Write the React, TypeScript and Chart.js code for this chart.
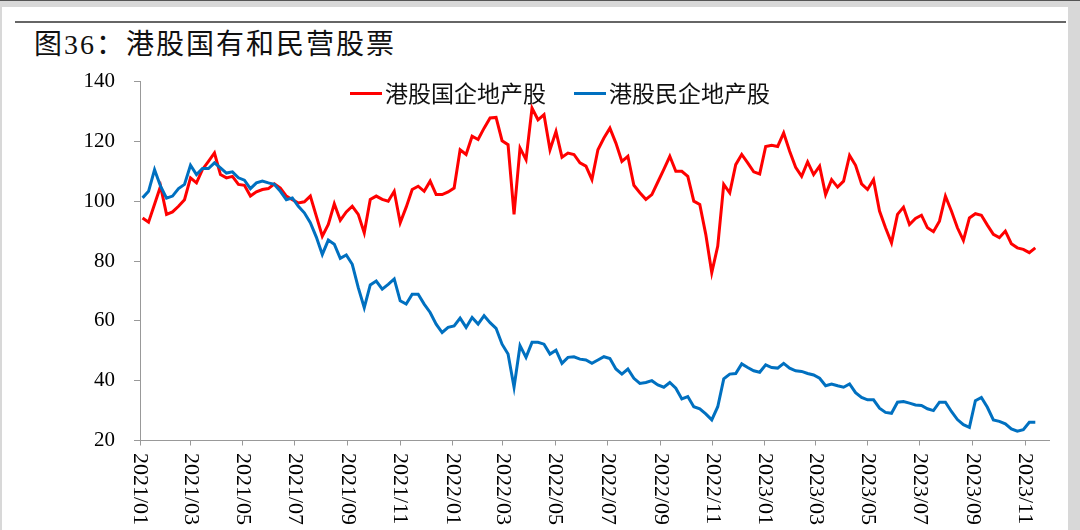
import { useEffect, useRef } from "react"
import { Chart, registerables } from "chart.js"

Chart.register(...registerables)

// weekly closes from 2021-01-04, one value per week
const stateOwned = [
  94.4, 93, 99, 105, 95.6, 96.4, 98.3, 100.5, 107.8, 106.1,
  110.6, 113.3, 116.1, 108.9, 107.8, 108.3, 105.6, 105.3, 101.7, 103.1,
  103.9, 104.2, 105.8, 104.4, 101.7, 100.5, 99.4, 99.8, 101.7, 95,
  88.3, 92.2, 99.1, 93.6, 96.4, 98.3, 95.6, 89.4, 100.6, 101.7,
  100.6, 100, 103.3, 92.8, 98, 103.9, 105, 103.3, 106.7, 102.2,
  102.2, 103.1, 104.4, 117.2, 115.6, 121.7, 120.6, 124.4, 127.8, 128,
  120.2, 118.9, 95.6, 117.8, 113.9, 131.1, 127.2, 128.9, 117.2, 123.3,
  114.7, 116.1, 115.6, 112.8, 111.7, 107.2, 117.2, 121.1, 124.4, 119.4,
  113.3, 115, 105.3, 102.8, 100.6, 102.2, 106.4, 110.6, 115, 110,
  110, 108.3, 100, 98.9, 88.9, 76.1, 85, 105.6, 102.8, 112.2,
  115.6, 112.8, 109.8, 109.1, 118.3, 118.7, 118.3, 122.8, 116.7, 111.3,
  108.3, 113.1, 108.9, 111.7, 102.2, 107.2, 104.7, 106.7, 115.3, 112,
  105.8, 103.9, 107.2, 96.7, 91.1, 86.1, 95.6, 98, 92.2, 94.2,
  95.3, 91.1, 89.8, 93.3, 101.7, 96.7, 91.1, 86.9, 94.4, 95.8,
  95.3, 92, 88.9, 87.8, 90, 85.8, 84.4, 83.9, 82.8, 84.4,
]

const privateOwned = [
  101.1, 103.3, 110.5, 105, 101, 101.7, 104.2, 105.6, 112, 108.9,
  110.9, 110.9, 112.8, 111.1, 109.4, 109.8, 107.8, 107, 104.2, 106.1,
  106.7, 106.1, 105.6, 103.3, 100.5, 101.1, 98.3, 96.1, 92.8, 88,
  82.2, 87, 85.6, 80.9, 82, 78.9, 71.1, 64.4, 72, 73.3,
  70.6, 72.2, 74, 66.7, 65.6, 68.9, 68.9, 65.6, 62.8, 58.9,
  56.1, 57.8, 58.3, 60.9, 57.8, 61.1, 58.9, 61.7, 59.4, 57.5,
  52.2, 48.9, 37.8, 51.7, 47.8, 52.8, 52.8, 52.2, 48.9, 50.2,
  45.8, 47.8, 48, 47.2, 46.9, 45.8, 46.9, 48, 47.4, 43.9,
  42.2, 43.9, 40.8, 39.1, 39.4, 40, 38.6, 37.8, 39.4, 37.5,
  33.9, 34.7, 31.3, 30.6, 28.9, 26.9, 31.3, 40.6, 42.2, 42.4,
  45.6, 44.4, 43.3, 42.8, 45.3, 44.4, 44.2, 45.8, 44.2, 43.3,
  43.1, 42.4, 41.9, 40.8, 38.3, 38.9, 38.3, 37.8, 38.9, 36,
  34.4, 33.6, 33.6, 30.8, 29.4, 29.1, 32.8, 33, 32.5, 31.9,
  31.7, 30.6, 30, 32.8, 32.8, 29.7, 27, 25.3, 24.4, 33.3,
  34.4, 31.1, 26.9, 26.4, 25.6, 23.9, 23.1, 23.6, 26.1, 26.1,
]

const tickLabels = [
  "2021/01", "2021/03", "2021/05", "2021/07", "2021/09", "2021/11",
  "2022/01", "2022/03", "2022/05", "2022/07", "2022/09", "2022/11",
  "2023/01", "2023/03", "2023/05", "2023/07", "2023/09", "2023/11",
]

const origin = Date.UTC(2021, 0, 1)
const DAY = 86400000

// week dates (Mondays) as day offsets from 2021-01-01
const weekDays = stateOwned.map((_, i) => (Date.UTC(2021, 0, 4 + 7 * i) - origin) / DAY)

function monthDay(label) {
  const [y, m] = label.split("/").map(Number)
  return (Date.UTC(y, m - 1, 1) - origin) / DAY
}

const xLabelPlugin = {
  id: "xLabels",
  afterDraw(chart) {
    const s = chart.scales.x
    const ctx = chart.ctx
    ctx.save()
    ctx.font = '22px "Liberation Serif"'
    ctx.fillStyle = "#000"
    ctx.textAlign = "left"
    ctx.textBaseline = "middle"
    s.ticks.forEach((t, i) => {
      const x = s.getPixelForValue(t.value)
      ctx.save()
      ctx.translate(x, s.top + 12.5)
      ctx.rotate(Math.PI / 2)
      ctx.fillText(tickLabels[i], 0, 0)
      ctx.restore()
    })
    ctx.restore()
  },
}

const legendPlugin = {
  id: "topLegend",
  afterDraw(chart) {
    const ctx = chart.ctx
    const y = 93.5
    let x = 350
    ctx.save()
    ctx.font = '23px "Noto Sans CJK SC"'
    ctx.textBaseline = "middle"
    ctx.textAlign = "left"
    chart.data.datasets.forEach((ds) => {
      ctx.strokeStyle = ds.borderColor
      ctx.lineWidth = 3
      ctx.beginPath()
      ctx.moveTo(x, y)
      ctx.lineTo(x + 32, y)
      ctx.stroke()
      x += 35
      ctx.fillStyle = "#111"
      ctx.fillText(ds.label, x, y)
      x += ctx.measureText(ds.label).width + 28
    })
    ctx.restore()
  },
}

function LineChart() {
  const chartRef = useRef(null)
  const chartInstance = useRef(null)

  useEffect(() => {
    if (chartInstance.current) {
      chartInstance.current.destroy()
    }
    const ctx = chartRef.current.getContext("2d")
    chartInstance.current = new Chart(ctx, {
      type: "line",
      data: {
        datasets: [
          {
            label: "港股国企地产股",
            data: stateOwned.map((v, i) => ({ x: weekDays[i], y: v })),
            borderColor: "#FF0000",
            borderWidth: 3,
            pointRadius: 0,
            tension: 0,
            order: 1,
          },
          {
            label: "港股民企地产股",
            data: privateOwned.map((v, i) => ({ x: weekDays[i], y: v })),
            borderColor: "#0070C0",
            borderWidth: 3,
            pointRadius: 0,
            tension: 0,
            order: 0,
          },
        ],
      },
      options: {
        responsive: false,
        animation: false,
        layout: { padding: { top: 81.5, right: 31, left: 0, bottom: 0 } },
        plugins: {
          legend: { display: false },
          tooltip: { enabled: false },
        },
        scales: {
          x: {
            type: "linear",
            min: 0,
            max: 1062,
            afterBuildTicks: (s) => {
              s.ticks = tickLabels.map((l) => ({ value: monthDay(l) }))
            },
            afterFit: (s) => {
              s.height = 89.5
            },
            ticks: { display: false },
            grid: { drawOnChartArea: false, drawTicks: true, tickLength: 5, color: "#999" },
            border: { color: "#999", width: 1 },
          },
          y: {
            min: 20,
            max: 140,
            afterFit: (s) => {
              s.width = 140
            },
            ticks: {
              stepSize: 20,
              padding: 19,
              color: "#000",
              font: { family: '"Liberation Serif"', size: 21 },
            },
            grid: { drawOnChartArea: false, drawTicks: true, tickLength: 6, color: "#999" },
            border: { color: "#999", width: 1 },
          },
        },
      },
      plugins: [xLabelPlugin, legendPlugin],
    })

    return () => {
      if (chartInstance.current) {
        chartInstance.current.destroy()
        chartInstance.current = null
      }
    }
  }, [])

  return (
    <canvas
      ref={chartRef}
      width={1080}
      height={530}
      style={{ position: "absolute", left: 0, top: 0, width: 1080, height: 530 }}
    />
  )
}

export default function App() {
  return (
    <div
      style={{
        position: "fixed",
        left: 0,
        top: 0,
        width: 1080,
        height: 530,
        background: "#d8d8d8",
        overflow: "hidden",
      }}
    >
      <div style={{ position: "absolute", left: 0, top: 0, width: 1080, height: 1, background: "#555" }} />
      <div style={{ position: "absolute", left: 2, top: 7, width: 1066, height: 523, background: "#fff" }} />
      <div style={{ position: "absolute", left: 15, top: 21, width: 1051, height: 2, background: "#666" }} />
      <div
        style={{
          position: "absolute",
          left: 34,
          top: 27,
          height: 36,
          lineHeight: "36px",
          fontSize: 28,
          letterSpacing: 2,
          color: "#111",
          fontFamily: '"Liberation Serif", "Noto Sans CJK SC"',
          whiteSpace: "nowrap",
        }}
      >
        图36：港股国有和民营股票
      </div>
      <LineChart />
    </div>
  )
}
